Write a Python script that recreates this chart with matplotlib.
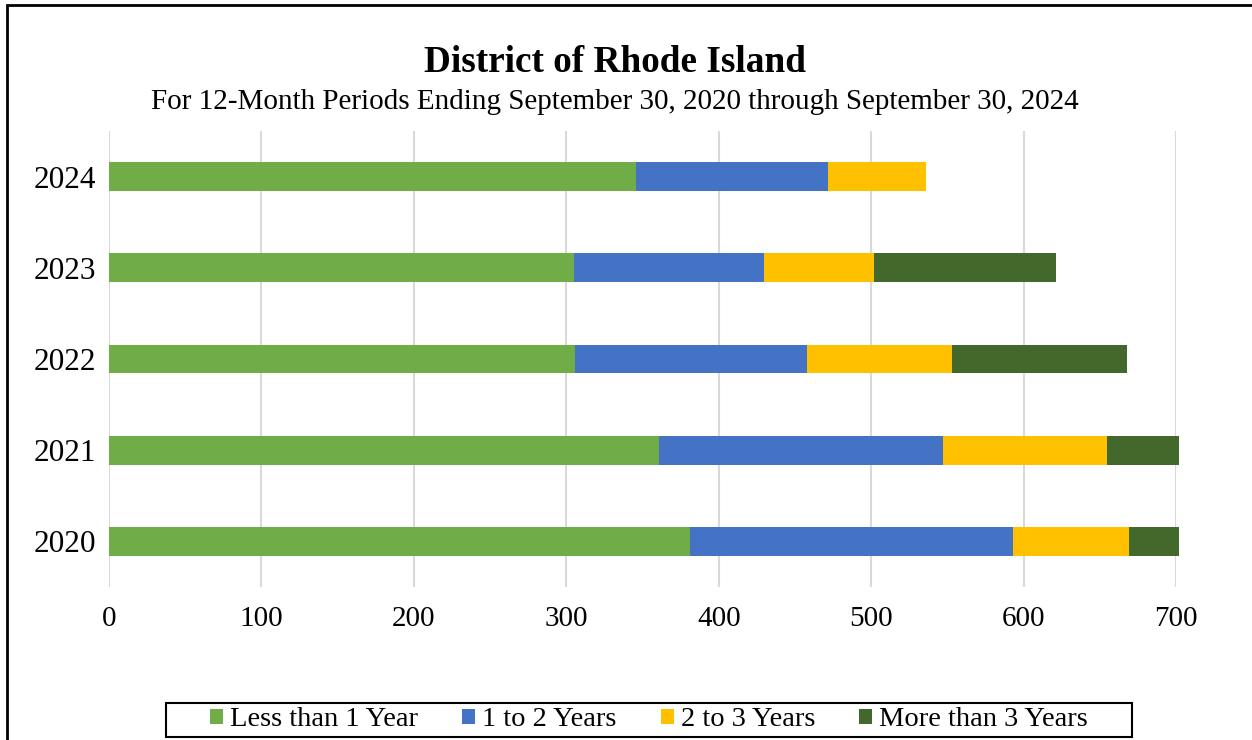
import matplotlib
matplotlib.use("Agg")
import matplotlib.pyplot as plt
from matplotlib.patches import Rectangle, Patch
import numpy as np

years = ["2020", "2021", "2022", "2023", "2024"]
less_than_1 = [381, 361, 306, 305, 346]
one_to_two = [212, 186, 152, 125, 126]
two_to_three = [76, 108, 95, 72, 64]
more_than_3 = [33, 47, 115, 119, 0]

series_names = ["Less than 1 Year", "1 to 2 Years", "2 to 3 Years", "More than 3 Years"]
colors = ["#70AD47", "#4472C4", "#FFC000", "#43682B"]
x_ticks = [0, 100, 200, 300, 400, 500, 600, 700]

plt.rcParams['font.family'] = ['Liberation Serif', 'DejaVu Serif']

fig = plt.figure(figsize=(12.52, 7.4), dpi=100)
ax = fig.add_axes([109/1252, 1-587/740, (1176-109)/1252, (587-131)/740])

y = np.arange(len(years))
left = np.zeros(len(years))
for vals, c in zip([less_than_1, one_to_two, two_to_three, more_than_3], colors):
    vals = np.array(vals, dtype=float)
    ax.barh(y, vals, left=left, height=0.315, color=c, edgecolor='none', zorder=3, clip_on=False)
    left += vals

ax.set_xlim(0, 700)
ax.set_ylim(-0.5, len(years)-0.5)
ax.set_xticks(x_ticks)
ax.set_xticklabels([str(t) for t in x_ticks], fontsize=21)
ax.set_yticks(y)
ax.set_yticklabels(years, fontsize=22.5)
ax.tick_params(axis='both', length=0)
ax.tick_params(axis='x', pad=14)
ax.tick_params(axis='y', pad=9)
ax.grid(axis='x', color='#D9D9D9', linewidth=1.5, zorder=0)
for s in ax.spines.values():
    s.set_visible(False)

fig.text(615/1252, 1-63/740, "District of Rhode Island", ha='center', va='center',
         fontsize=26.8, fontweight='bold')
fig.text(615/1252, 1-102/740,
         "For 12-Month Periods Ending September 30, 2020 through September 30, 2024",
         ha='center', va='center', fontsize=21)

handles = [Patch(facecolor=c, edgecolor='none') for c in colors]
leg = fig.legend(handles, series_names, loc='center', ncol=4,
                 bbox_to_anchor=(649/1252, 1-720/740), fontsize=20.5,
                 frameon=False,
                 handlelength=0.45, handleheight=0.45, handletextpad=0.25,
                 columnspacing=1.55, borderpad=0.1)

fig.patches.append(Rectangle((166/1252, 1-737/740), (1132-166)/1252, 34/740,
                             transform=fig.transFigure, fill=False,
                             edgecolor='black', linewidth=1.5))
fig.patches.append(Rectangle((7/1252, -0.05), 1.1, 1-5/740+0.05, transform=fig.transFigure,
                             fill=False, edgecolor='black', linewidth=2))

fig.savefig("out.png", dpi=100)
